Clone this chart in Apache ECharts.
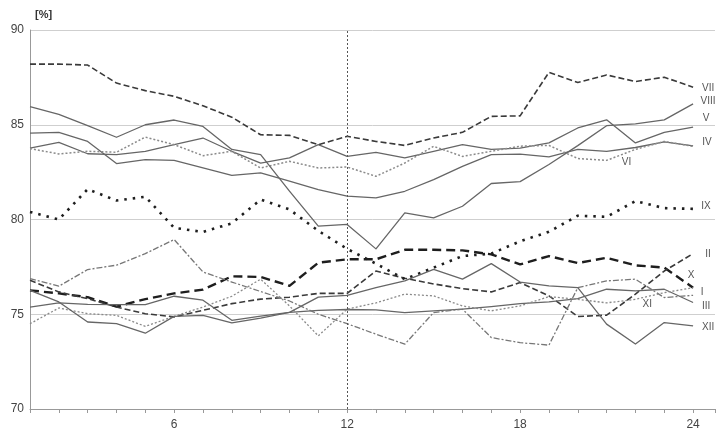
<!DOCTYPE html>
<html><head><meta charset="utf-8">
<script src="https://cdn.jsdelivr.net/npm/echarts@6/dist/echarts.min.js"></script>
<style>html,body{margin:0;padding:0;background:#fff}#c{width:718px;height:434px}</style>
</head><body><div id="c"></div>
<script>
const hours = [1,2,3,4,5,6,7,8,9,10,11,12,13,14,15,16,17,18,19,20,21,22,23,24];
const yTicks = [70,75,80,85,90];
const xLabelTicks = [6,12,18,24];
const noonMark = 12;

const sI    = [76.26,76.1,75.9,75.4,75.8,76.1,76.3,77.0,76.97,76.5,77.72,77.9,77.9,78.4,78.4,78.37,78.16,77.63,78.07,77.7,77.98,77.58,77.46,76.4];
const sII   = [76.79,76.18,75.82,75.38,75.03,74.86,75.21,75.56,75.8,75.9,76.1,76.1,77.28,76.9,76.6,76.35,76.18,76.67,75.97,74.88,74.95,76.06,77.28,78.2];
const sIII  = [75.38,75.6,75.52,75.51,75.51,75.95,75.74,74.68,74.9,75.1,75.2,75.25,75.23,75.09,75.18,75.27,75.4,75.56,75.65,75.83,76.32,76.23,76.32,75.62];
const sIV   = [84.56,84.6,84.12,82.95,83.16,83.12,82.72,82.33,82.46,82.02,81.58,81.23,81.14,81.49,82.1,82.8,83.42,83.45,83.3,83.7,83.6,83.8,84.1,83.88];
const sV    = [83.77,84.07,83.47,83.42,83.6,83.95,84.3,83.6,82.98,83.25,83.95,83.33,83.54,83.25,83.6,83.95,83.7,83.77,84.04,84.83,85.26,84.04,84.6,84.88];
const sVI   = [83.74,83.46,83.6,83.55,84.35,83.95,83.37,83.6,82.72,83.07,82.72,82.77,82.28,82.98,83.86,83.33,83.6,83.87,83.91,83.22,83.12,83.7,84.12,83.86];
const sVII  = [88.2,88.2,88.15,87.2,86.8,86.5,86.0,85.4,84.47,84.44,83.95,84.39,84.12,83.91,84.3,84.6,85.44,85.47,87.76,87.23,87.63,87.28,87.51,86.98];
const sVIII = [85.96,85.55,84.95,84.34,85.0,85.25,84.91,83.7,83.42,81.5,79.65,79.74,78.45,80.35,80.09,80.7,81.9,82.0,82.9,83.9,84.95,85.05,85.26,86.1];
const sIX   = [80.4,80.0,81.6,81.0,81.2,79.56,79.34,79.8,81.05,80.53,79.4,78.45,77.67,76.85,77.46,78.07,78.2,78.85,79.35,80.2,80.14,80.97,80.6,80.56];
const sX    = [76.88,76.48,77.36,77.59,78.2,78.94,77.23,76.7,76.2,75.7,75.0,74.5,73.95,73.42,75.09,75.27,73.77,73.5,73.37,76.4,76.76,76.85,75.88,76.0];
const sXI   = [74.5,75.33,75.03,74.94,74.36,74.89,75.38,75.95,76.85,75.44,73.86,75.27,75.6,76.06,75.97,75.44,75.18,75.44,75.93,75.79,75.6,75.79,76.14,76.4];
const sXII  = [76.26,75.65,74.59,74.5,74.0,74.89,74.94,74.54,74.8,75.1,75.9,76.0,76.4,76.76,77.37,76.85,77.67,76.7,76.5,76.4,74.48,73.43,74.56,74.39];

const seriesNames = ['I','II','III','IV','V','VI','VII','VIII','IX','X','XI','XII'];
const seriesValues = [sI,sII,sIII,sIV,sV,sVI,sVII,sVIII,sIX,sX,sXI,sXII];

// label anchors (annotation placement, in data coordinates)
const labelAnchor = {
  VII:[24.52,86.95], VIII:[24.52,86.26], V:[24.45,85.32], IV:[24.48,84.1],
  VI:[21.69,83.0], IX:[24.45,80.68], II:[24.52,78.16], X:[23.93,77.05],
  I:[24.31,76.16], XI:[22.41,75.53], III:[24.45,75.42], XII:[24.52,74.32]
};

const styles = {
  I:    {color:'#1e1e1e', width:2.4, type:[9,5]},
  II:   {color:'#3a3a3a', width:1.6, type:[6,3]},
  III:  {color:'#666', width:1.3, type:'solid'},
  IV:   {color:'#666', width:1.3, type:'solid'},
  V:    {color:'#666', width:1.3, type:'solid'},
  VI:   {color:'#8a8a8a', width:1.5, type:[2,2]},
  VII:  {color:'#3a3a3a', width:1.6, type:[6,3]},
  VIII: {color:'#666', width:1.3, type:'solid'},
  IX:   {color:'#1e1e1e', width:2.6, type:[2.5,6]},
  X:    {color:'#777', width:1.3, type:[6,2,2,2]},
  XI:   {color:'#8a8a8a', width:1.3, type:[2,2]},
  XII:  {color:'#666', width:1.3, type:'solid'}
};

const chart = echarts.init(document.getElementById('c'));
const series = seriesNames.map((n,i)=>{
  const st = styles[n];
  const s = {
    name:n, type:'line', showSymbol:false, symbol:'none', animation:false,
    data: hours.map((h,j)=>[h, seriesValues[i][j]]),
    lineStyle:{color:st.color, width:st.width, type:st.type, cap:'butt', join:'round'},
    z: 3,
    markPoint:{
      symbol:'circle', symbolSize:0, animation:false,
      data:[{coord:labelAnchor[n], value:n}],
      label:{show:true, position:'inside', formatter:n, color:'#555', fontSize:10,
             fontFamily:'Liberation Sans, Arial, sans-serif'}
    }
  };
  if (i===0){
    s.markLine = {symbol:'none', silent:true, animation:false, label:{show:false},
      lineStyle:{color:'#555', type:[2,2], width:1},
      data:[{xAxis:noonMark}]};
  }
  return s;
});

chart.setOption({
  animation:false,
  backgroundColor:'#fff',
  grid:{left:30, right:0, top:30, bottom:25, containLabel:false},
  xAxis:{type:'value', min:1, max:24.76, interval:1,
    axisLine:{show:true, lineStyle:{color:'#999', width:1}},
    axisTick:{show:true, length:4, lineStyle:{color:'#999'}},
    axisLabel:{color:'#444', fontSize:12, margin:10, fontFamily:'Liberation Sans, Arial, sans-serif',
      formatter:v=> xLabelTicks.includes(v) ? String(v) : ''},
    splitLine:{show:false}},
  yAxis:{type:'value', min:yTicks[0], max:yTicks[yTicks.length-1], interval:5,
    axisLine:{show:true, lineStyle:{color:'#999', width:1}},
    axisTick:{show:false},
    axisLabel:{color:'#444', fontSize:12, margin:6, fontFamily:'Liberation Sans, Arial, sans-serif'},
    splitLine:{show:true, lineStyle:{color:'#cfcfcf', width:1}}},
  graphic:[{type:'text', left:35, top:9, style:{text:'[%]', fill:'#333', font:'bold 11px Liberation Sans, Arial, sans-serif'}}],
  series: series
});
</script></body></html>
